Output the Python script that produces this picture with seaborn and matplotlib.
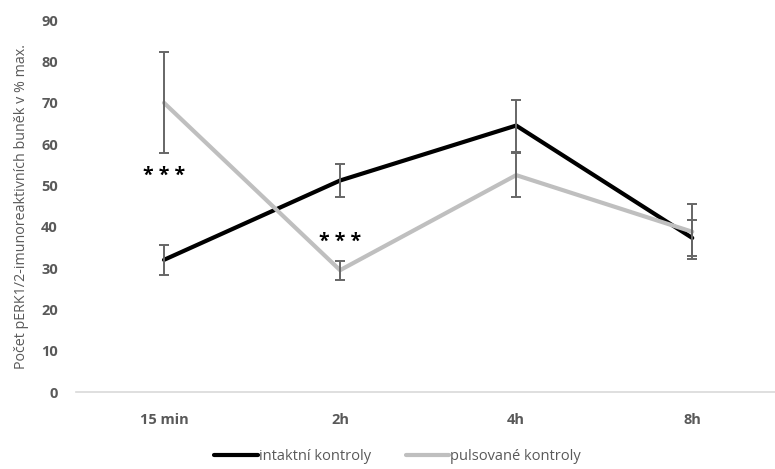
import matplotlib
matplotlib.use("Agg")
import matplotlib.pyplot as plt
import seaborn as sns
import pandas as pd

# Time points and group means / errors (% of max pERK1/2-immunoreactive cells)
times = ["15 min", "2h", "4h", "8h"]
intact_mean = [32.0, 51.2, 64.5, 37.3]
intact_err = [3.7, 4.0, 6.3, 4.3]
pulsed_mean = [70.0, 29.5, 52.5, 38.8]
pulsed_err = [12.2, 2.3, 5.3, 6.6]
series_names = ["intaktní kontroly", "pulsované kontroly"]
sig_marks = [("15 min", 52.2), ("2h", 36.2)]

sns.set_style("white")
plt.rcParams["font.family"] = ["Open Sans", "DejaVu Sans"]

df = pd.DataFrame({
    "time": times * 2,
    "value": intact_mean + pulsed_mean,
    "group": [series_names[0]] * 4 + [series_names[1]] * 4,
})

fig = plt.figure(figsize=(7.75, 4.69), dpi=100)
ax = fig.add_axes([0.098, 0.164, 0.902, 0.793])

palette = {series_names[0]: "#000000", series_names[1]: "#bfbfbf"}
sns.lineplot(data=df, x="time", y="value", hue="group", palette=palette,
             linewidth=3.0, sort=False, ax=ax, legend=True, zorder=2)

xpos = range(len(times))
for means, errs in ((intact_mean, intact_err), (pulsed_mean, pulsed_err)):
    ax.errorbar(list(xpos), means, yerr=errs, fmt="none", ecolor="#666666",
                elinewidth=1.4, capsize=3.5, capthick=1.4, zorder=3)

for t, y in sig_marks:
    ax.text(times.index(t), y, "* * *", ha="center", va="center",
            fontsize=14, fontweight="bold", color="#000000")

ax.set_xlim(-0.5, 3.47)
ax.set_ylim(0, 90)
ax.set_yticks(range(0, 91, 10))
ax.set_xlabel("")
ax.set_ylabel("Počet pERK1/2-imunoreaktivních buněk v % max.",
              fontsize=10.3, color="#595959", labelpad=9)
ax.tick_params(axis="both", length=0, colors="#595959", labelsize=10.5)
ax.tick_params(axis="x", pad=15)
ax.tick_params(axis="y", pad=13)
for lbl in ax.get_xticklabels() + ax.get_yticklabels():
    lbl.set_fontweight("bold")

for side in ("top", "right", "left"):
    ax.spines[side].set_visible(False)
ax.spines["bottom"].set_color("#d9d9d9")
ax.spines["bottom"].set_linewidth(1.2)

handles, labels = ax.get_legend_handles_labels()
ax.legend(handles, labels, loc="lower center", bbox_to_anchor=(0.46, -0.23),
          ncol=2, frameon=False, fontsize=10.5, handlelength=3.0,
          handletextpad=0.05, columnspacing=2.4, labelcolor="#595959")

fig.savefig("out.png", dpi=100)
